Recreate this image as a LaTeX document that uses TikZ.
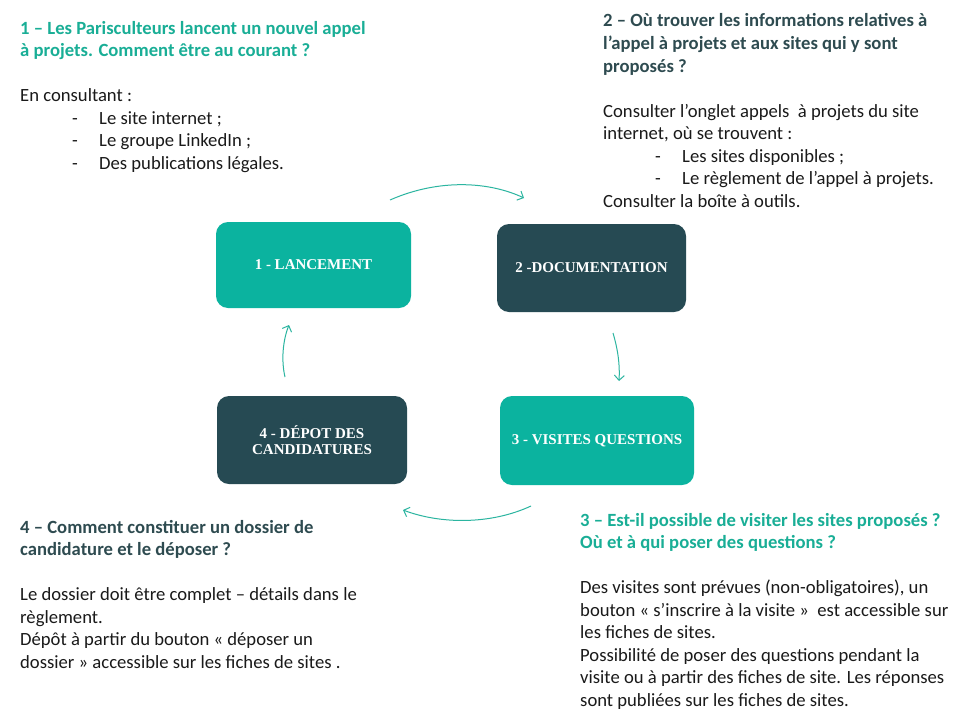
\documentclass[tikz,border=0pt]{standalone}
\usepackage{fontspec}
\setmainfont{Carlito}
\newfontfamily\boxfont{Liberation Serif}
\usetikzlibrary{arrows.meta}
\definecolor{tealbox}{HTML}{0BB39F}
\definecolor{darkbox}{HTML}{264A53}
\definecolor{arrowc}{HTML}{2BB5A0}
\definecolor{headteal}{HTML}{19AE96}
\definecolor{headdark}{HTML}{2E4B50}
\definecolor{bodyc}{HTML}{1A1A1A}
\newcommand{\bul}[1]{\makebox[79pt][l]{\hspace*{52pt}-}#1}
\tikzset{
  stepbox/.style={rounded corners=12pt, inner sep=2pt, text=white, align=center,
    font=\boxfont\bfseries\fontsize{15}{18}\selectfont},
  tealstep/.style={stepbox, fill=tealbox},
  darkstep/.style={stepbox, fill=darkbox},
  flow/.style={draw=arrowc, line width=1pt, -{Straight Barb[length=5pt,width=10pt]}},
  txtblock/.style={anchor=base west, inner sep=0pt, text=bodyc,
    font=\fontsize{18.65}{22.5}\selectfont}
}
\begin{document}
\begin{tikzpicture}[x=1pt,y=-1pt]
\useasboundingbox (0,0) rectangle (960,720);
\fill[white] (0,0) rectangle (960,720);

% boxes
\node[tealstep, minimum width=195pt, minimum height=86pt] (b1) at (313.5,265) {1 - LANCEMENT};
\node[darkstep, minimum width=189pt, minimum height=88pt] (b2) at (591.5,268) {2 -DOCUMENTATION};
\node[tealstep, minimum width=194pt, minimum height=89pt] (b3) at (597,440.5) {3 - VISITES QUESTIONS};
\node[darkstep, minimum width=190pt, minimum height=88pt] (b4) at (312,440) {4 - DÉPOT DES\\[-2pt]CANDIDATURES};

% arrow end points
\coordinate (a1s) at (390,200); \coordinate (a1e) at (524,198);
\coordinate (a2s) at (613,333); \coordinate (a2e) at (619,381);
\coordinate (a3s) at (531,506); \coordinate (a3e) at (403,510);
\coordinate (a4s) at (285,377); \coordinate (a4e) at (289,325);

\draw[flow] (a1s) .. controls (440,178) and (490,182) .. (a1e);
\draw[flow] (a2s) .. controls (618,350) and (620,365) .. (a2e);
\draw[flow] (a3s) .. controls (490,525) and (440,524) .. (a3e);
\draw[flow] (a4s) .. controls (281,360) and (283,340) .. (a4e);

% text blocks
\node[txtblock] (t1) at (20,34) {\parbox[t]{420pt}{\raggedright\leavevmode
{\color{headteal}\bfseries 1 – Les Parisculteurs lancent un nouvel appel\\
à projets. Comment être au courant ?}\\
\mbox{}\\
En consultant :\\
\bul{Le site internet ;}\\
\bul{Le groupe LinkedIn ;}\\
\bul{Des publications légales.}}};

\node[txtblock] (t2) at (603,27) {\parbox[t]{360pt}{\raggedright\leavevmode
{\color{headdark}\bfseries 2 – Où trouver les informations relatives à\\
l’appel à projets et aux sites qui y sont\\
proposés ?}\\
\mbox{}\\
Consulter l’onglet appels~ à projets du site\\
internet, où se trouvent :\\
\bul{Les sites disponibles ;}\\
\bul{Le règlement de l’appel à projets.}\\
Consulter la boîte à outils.}};

\node[txtblock] (t4) at (20,533) {\parbox[t]{400pt}{\raggedright\leavevmode
{\color{headdark}\bfseries 4 – Comment constituer un dossier de\\
candidature et le déposer ?}\\
\mbox{}\\
Le dossier doit être complet – détails dans le\\
règlement.\\
Dépôt à partir du bouton « déposer un\\
dossier » accessible sur les fiches de sites .}};

\node[txtblock] (t3) at (580,526) {\parbox[t]{380pt}{\raggedright\leavevmode
{\color{headteal}\bfseries 3 – Est-il possible de visiter les sites proposés ?\\
Où et à qui poser des questions ?}\\
\mbox{}\\
Des visites sont prévues (non-obligatoires), un\\
bouton « s’inscrire à la visite »~ est accessible sur\\
les fiches de sites.\\
Possibilité de poser des questions pendant la\\
visite ou à partir des fiches de site. Les réponses\\
sont publiées sur les fiches de sites.}};
\end{tikzpicture}
\end{document}
